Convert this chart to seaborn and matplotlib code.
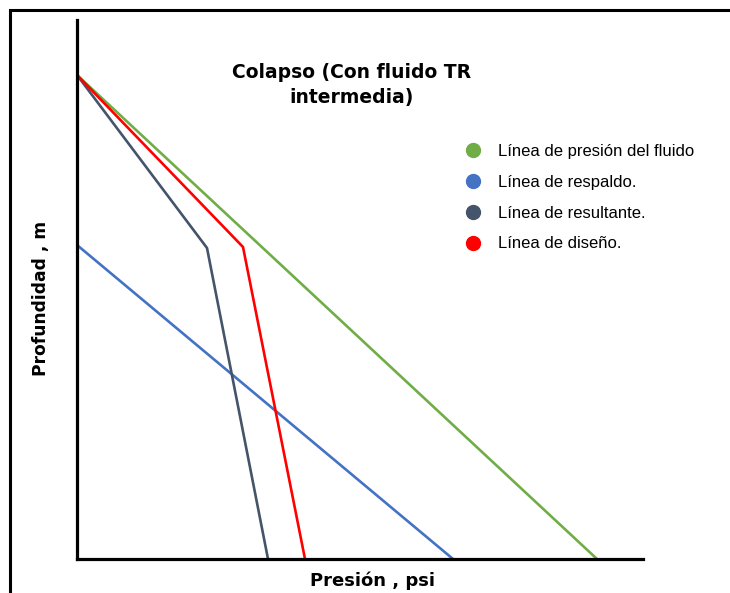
import matplotlib
matplotlib.use("Agg")
import matplotlib.pyplot as plt
from matplotlib.lines import Line2D
from matplotlib.patches import Rectangle
import seaborn as sns
import pandas as pd

# datos (presion arbitraria, profundidad arbitraria)
series = ["Línea de presión del fluido", "Línea de respaldo.",
          "Línea de resultante.", "Línea de diseño."]
presion_fluido = [0, 520]
prof_fluido = [55, 539]
presion_respaldo = [0, 376]
prof_respaldo = [225, 539]
presion_resultante = [0, 130, 191]
prof_resultante = [55, 228, 539]
presion_diseno = [0, 166, 228]
prof_diseno = [55, 227, 539]
colores = ["#70AD47", "#4472C4", "#44546A", "#FF0000"]

rows = []
for nombre, xs, ys in zip(series,
                          [presion_fluido, presion_respaldo, presion_resultante, presion_diseno],
                          [prof_fluido, prof_respaldo, prof_resultante, prof_diseno]):
    for i, (x, y) in enumerate(zip(xs, ys)):
        rows.append({"serie": nombre, "orden": i, "presion": x, "profundidad": y})
df = pd.DataFrame(rows)

sns.set_style("white")
plt.rcParams["text.color"] = "black"
fig = plt.figure(figsize=(7.3, 5.93), dpi=100)
ax = fig.add_axes([77 / 730, 1 - 559 / 593, (643 - 77) / 730, (559 - 20) / 593])

sns.lineplot(data=df, x="presion", y="profundidad", hue="serie", units="serie",
             estimator=None, sort=False, palette=colores, linewidth=1.9,
             legend=False, ax=ax)

ax.set_xlim(0, 566)
ax.set_ylim(539, 0)
ax.set_xticks([])
ax.set_yticks([])
ax.set_xlabel("")
ax.set_ylabel("")
sns.despine(ax=ax, top=True, right=True)
for s in ["left", "bottom"]:
    ax.spines[s].set_color("black")
    ax.spines[s].set_linewidth(2.3)

# titulo y etiquetas
fig.text(352 / 730, 1 - 85 / 593, "Colapso (Con fluido TR\nintermedia)",
         ha="center", va="center", fontsize=13.5, fontweight="bold",
         linespacing=1.35, color="black")
fig.text(372 / 730, 1 - 581 / 593, "Presión , psi", ha="center", va="center",
         fontsize=13, fontweight="bold", color="black")
fig.text(41 / 730, 1 - 298 / 593, "Profundidad , m", ha="center", va="center",
         rotation=90, fontsize=12.3, fontweight="bold", color="black")

# leyenda con circulos
handles = [Line2D([], [], linestyle="none", marker="o", markersize=10,
                  markerfacecolor=c, markeredgecolor=c) for c in colores]
fig.legend(handles, series, loc="upper left",
           bbox_to_anchor=(465 / 730, 1 - 144 / 593), frameon=False,
           borderpad=0, borderaxespad=0, handlelength=0.9, handletextpad=1.1,
           labelspacing=0.95, prop={"family": "Liberation Sans", "size": 12})

# marco exterior
fig.patches.append(Rectangle((10 / 730, -0.05), 1.0, 1 - 10 / 593 + 0.05,
                             transform=fig.transFigure, fill=False,
                             edgecolor="black", linewidth=2.2, clip_on=False))

fig.savefig("out.png", dpi=100)
